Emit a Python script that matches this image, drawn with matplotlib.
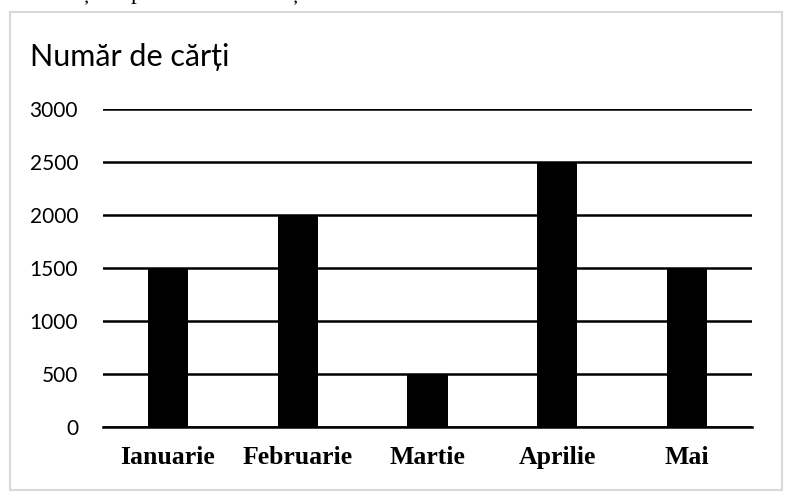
import matplotlib.pyplot as plt
import matplotlib.patches as mpatches

luni = ['Ianuarie', 'Februarie', 'Martie', 'Aprilie', 'Mai']
carti = [1500, 2000, 500, 2500, 1500]
y_ticks = [0, 500, 1000, 1500, 2000, 2500, 3000]

fig = plt.figure(figsize=(7.94, 5.0), dpi=100)

# chenarul gri al graficului
fig.patches.append(mpatches.Rectangle((10 / 794, 10 / 500), 772 / 794, 478 / 500,
                                      transform=fig.transFigure, fill=False,
                                      edgecolor='#d9d9d9', linewidth=1.5))

# fragmente de text taiate in partea de sus
for x, s in [(82, 'ș'), (131, 'p'), (291, 'ș')]:
    fig.text(x / 794, 1.0 + 1 / 500, s, family='Liberation Serif', fontsize=17,
             ha='left', va='baseline')

ax = fig.add_axes([103 / 794, 73 / 500, 649 / 794, 318 / 500])
ax.bar(range(len(luni)), carti, width=0.31, color='black', zorder=3)
ax.set_xlim(-0.5, len(luni) - 0.5)
ax.set_ylim(0, 3000)
ax.set_yticks(y_ticks)
ax.set_yticklabels([str(v) for v in y_ticks], family='Lato', fontsize=15)
ax.set_xticks(range(len(luni)))
ax.set_xticklabels(luni, family='Liberation Serif', fontweight='bold', fontsize=18.5)
ax.tick_params(length=0)
ax.tick_params(axis='y', pad=18)
ax.tick_params(axis='x', pad=14)
ax.grid(axis='y', color='black', linewidth=1.8, zorder=1)
for s in ['top', 'right', 'left']:
    ax.spines[s].set_visible(False)
ax.spines['bottom'].set_linewidth(1.8)

fig.text(30 / 794, 1 - 57 / 500, 'Număr de cărți', family='Lato', fontsize=22,
         ha='left', va='center')

fig.savefig('out.png', dpi=100)
